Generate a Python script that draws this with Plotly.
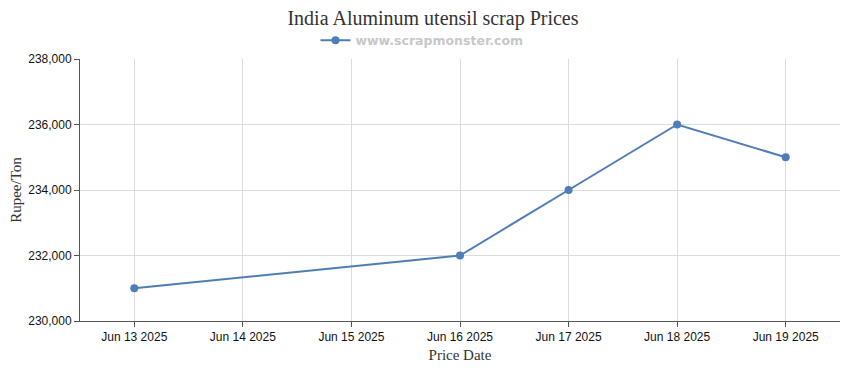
import plotly.graph_objects as go

dates = ["2025-06-13", "2025-06-16", "2025-06-17", "2025-06-18", "2025-06-19"]
prices = [231000, 232000, 234000, 236000, 235000]
tick_dates = ["2025-06-13", "2025-06-14", "2025-06-15", "2025-06-16",
              "2025-06-17", "2025-06-18", "2025-06-19"]
tick_labels = ["Jun 13 2025", "Jun 14 2025", "Jun 15 2025", "Jun 16 2025",
               "Jun 17 2025", "Jun 18 2025", "Jun 19 2025"]
y_ticks = [230000, 232000, 234000, 236000, 238000]

color = "#4f7db8"

fig = go.Figure()
fig.add_trace(go.Scatter(
    x=dates, y=prices, mode="lines+markers",
    name="<b>www.scrapmonster.com</b>",
    line=dict(color=color, width=2),
    marker=dict(color=color, size=8, symbol="circle"),
))

fig.update_layout(
    width=850, height=370,
    margin=dict(l=72, r=18, t=51, b=57, autoexpand=False),
    paper_bgcolor="white", plot_bgcolor="white",
    title=dict(text="India Aluminum utensil scrap Prices", x=0.5, xanchor="center",
               y=1 - 10 / 370, yanchor="middle",
               font=dict(family="Liberation Serif, serif", size=20, color="#333")),
    showlegend=True,
    legend=dict(orientation="h", x=0.45, xanchor="center", y=1.07, yanchor="middle",
                font=dict(family="DejaVu Sans, sans-serif", size=12.5, color="#c8c8c8"),
                itemwidth=30),
    xaxis=dict(
        type="date",
        range=["2025-06-12 12:00", "2025-06-19 12:00"],
        tickvals=tick_dates, ticktext=tick_labels,
        showgrid=True, gridcolor="#dcdcdc", gridwidth=1,
        showline=True, linecolor="#555", linewidth=1,
        ticks="outside", ticklen=5, tickcolor="#555",
        tickfont=dict(family="Liberation Sans, Arial, sans-serif", size=12, color="#111"),
        title=dict(text="Price Date", standoff=6,
                   font=dict(family="Liberation Serif, serif", size=15, color="#333")),
        zeroline=False, automargin=False,
    ),
    yaxis=dict(
        range=[230000, 238000],
        tickvals=y_ticks, tickformat=",d",
        showgrid=True, gridcolor="#dcdcdc", gridwidth=1,
        showline=True, linecolor="#555", linewidth=1,
        ticks="outside", ticklen=5, tickcolor="#555",
        tickfont=dict(family="Liberation Sans, Arial, sans-serif", size=12, color="#111"),
        title=dict(text="Rupee/Ton", standoff=8,
                   font=dict(family="Liberation Serif, serif", size=15, color="#333")),
        zeroline=False, automargin=False,
    ),
)

fig.write_html("out.html")
